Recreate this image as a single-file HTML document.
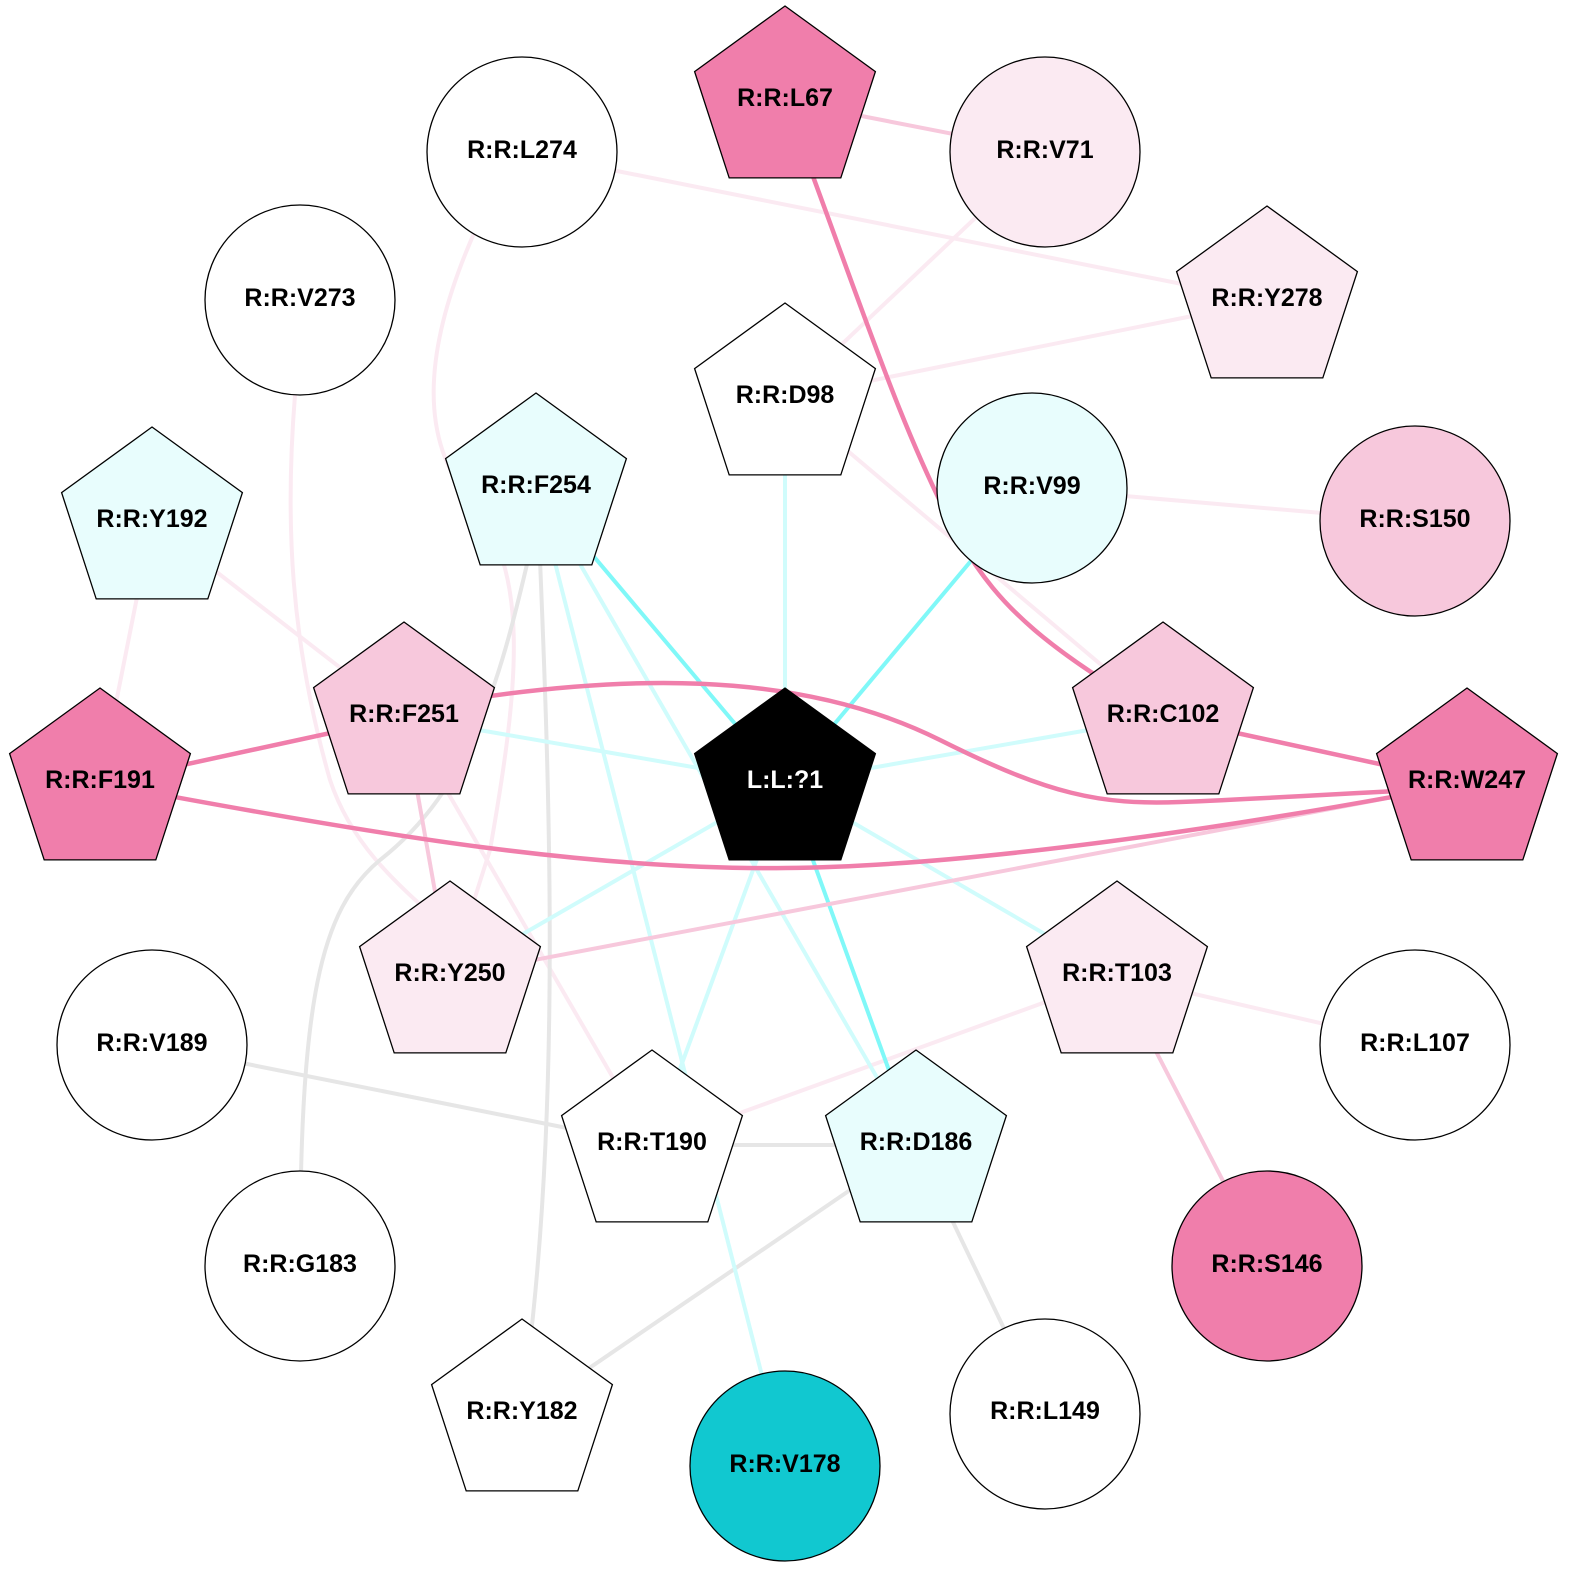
<!DOCTYPE html>
<html><head><meta charset="utf-8"><style>
html,body{margin:0;padding:0;background:#fff;overflow:hidden;width:1574px;height:1574px;}
svg{display:block;}
svg text{font-family:"Liberation Sans",Arial,sans-serif;font-weight:bold;font-size:25px;text-anchor:middle;dominant-baseline:central;}
</style></head><body>
<svg width="1574" height="1574" viewBox="0 0 1574 1574" xmlns="http://www.w3.org/2000/svg">
<defs>
<polygon id="p" points="0,-95 90.4,-29.4 55.8,76.9 -55.8,76.9 -90.4,-29.4"/>
</defs>
<g fill="none" stroke-width="4">
<g stroke="#fbeaf2">
<line x1="522" y1="152" x2="1267" y2="301"/>
<line x1="1045" y1="152" x2="785" y2="398"/>
<line x1="1267" y1="301" x2="785" y2="398"/>
<line x1="785" y1="398" x2="1163" y2="717"/>
<line x1="1032" y1="488" x2="1415" y2="521"/>
<line x1="152" y1="522" x2="100" y2="783"/>
<line x1="152" y1="522" x2="404" y2="717"/>
<line x1="404" y1="717" x2="652" y2="1145"/>
<line x1="1117" y1="976" x2="1415" y2="1045"/>
<line x1="1117" y1="976" x2="652" y2="1145"/>
<path d="M480,220 C420,350 420,440 470,500 C530,570 520,680 490,850 L450,976"/>
<path d="M295,395 C285,520 290,640 330,780 C350,840 390,880 450,930"/>
</g>
<g stroke="#e6e6e6">
<path d="M528,560 C500,680 470,790 380,860 C320,910 300,1000 300,1266"/>
<path d="M540,560 C550,800 560,1100 528,1360"/>
<line x1="152" y1="1045" x2="652" y2="1145"/>
<line x1="652" y1="1145" x2="916" y2="1145"/>
<line x1="916" y1="1145" x2="522" y2="1414"/>
<line x1="916" y1="1145" x2="1045" y2="1414"/>
</g>
<g stroke="#d0fcfc">
<line x1="785" y1="398" x2="785" y2="783"/>
<line x1="536" y1="488" x2="785" y2="1466"/>
<line x1="536" y1="488" x2="916" y2="1145"/>
<line x1="404" y1="717" x2="785" y2="783"/>
<line x1="1163" y1="717" x2="785" y2="783"/>
<line x1="785" y1="783" x2="450" y2="976"/>
<line x1="785" y1="783" x2="652" y2="1145"/>
<line x1="785" y1="783" x2="1117" y2="976"/>
</g>
<g stroke="#80f8f8">
<line x1="1032" y1="488" x2="785" y2="783"/>
<line x1="536" y1="488" x2="785" y2="783"/>
<line x1="785" y1="783" x2="916" y2="1145"/>
</g>
<g stroke="#f7c8dc">
<line x1="785" y1="101" x2="1045" y2="152"/>
<line x1="404" y1="717" x2="450" y2="976"/>
<line x1="1467" y1="783" x2="450" y2="976"/>
<line x1="1117" y1="976" x2="1267" y2="1266"/>
</g>
<g stroke="#f07eab" stroke-width="4.5">
<path d="M785,101 C860,300 900,430 960,540 C1000,610 1050,650 1163,717"/>
<line x1="100" y1="783" x2="404" y2="717"/>
<line x1="1163" y1="717" x2="1467" y2="783"/>
<path d="M100,783 C400,840 600,870 785,868 C1000,866 1300,815 1467,783"/>
<path d="M404,710 C620,670 800,670 940,740 C1050,795 1100,805 1180,802 C1300,797 1400,790 1467,788"/>
</g>
</g>
<g stroke="#000" stroke-width="1.3">
<use href="#p" x="785" y="101" fill="#f07eab"/>
<circle cx="1045" cy="152" r="95" fill="#fbeaf2"/>
<circle cx="522" cy="152" r="95" fill="#fff"/>
<use href="#p" x="1267" y="301" fill="#fbeaf2"/>
<circle cx="300" cy="300" r="95" fill="#fff"/>
<use href="#p" x="785" y="398" fill="#fff"/>
<use href="#p" x="536" y="488" fill="#e8fdfd"/>
<circle cx="1032" cy="488" r="95" fill="#e8fdfd"/>
<circle cx="1415" cy="521" r="95" fill="#f7c8dc"/>
<use href="#p" x="152" y="522" fill="#e8fdfd"/>
<use href="#p" x="404" y="717" fill="#f7c8dc"/>
<use href="#p" x="1163" y="717" fill="#f7c8dc"/>
<use href="#p" x="100" y="783" fill="#f07eab"/>
<use href="#p" x="785" y="783" fill="#000"/>
<use href="#p" x="1467" y="783" fill="#f07eab"/>
<use href="#p" x="450" y="976" fill="#fbeaf2"/>
<use href="#p" x="1117" y="976" fill="#fbeaf2"/>
<circle cx="152" cy="1045" r="95" fill="#fff"/>
<circle cx="1415" cy="1045" r="95" fill="#fff"/>
<use href="#p" x="652" y="1145" fill="#fff"/>
<use href="#p" x="916" y="1145" fill="#e8fdfd"/>
<circle cx="300" cy="1266" r="95" fill="#fff"/>
<circle cx="1267" cy="1266" r="95" fill="#f07eab"/>
<use href="#p" x="522" y="1414" fill="#fff"/>
<circle cx="785" cy="1466" r="95" fill="#11c8d0"/>
<circle cx="1045" cy="1414" r="95" fill="#fff"/>
</g>
<g fill="#000">
<text x="785" y="98">R:R:L67</text>
<text x="1045" y="150">R:R:V71</text>
<text x="522" y="150">R:R:L274</text>
<text x="1267" y="298">R:R:Y278</text>
<text x="300" y="298">R:R:V273</text>
<text x="785" y="395">R:R:D98</text>
<text x="536" y="485">R:R:F254</text>
<text x="1032" y="486">R:R:V99</text>
<text x="1415" y="519">R:R:S150</text>
<text x="152" y="519">R:R:Y192</text>
<text x="404" y="714">R:R:F251</text>
<text x="1163" y="714">R:R:C102</text>
<text x="100" y="780">R:R:F191</text>
<text x="785" y="780" fill="#fff">L:L:?1</text>
<text x="1467" y="780">R:R:W247</text>
<text x="450" y="973">R:R:Y250</text>
<text x="1117" y="973">R:R:T103</text>
<text x="152" y="1043">R:R:V189</text>
<text x="1415" y="1043">R:R:L107</text>
<text x="652" y="1142">R:R:T190</text>
<text x="916" y="1142">R:R:D186</text>
<text x="300" y="1264">R:R:G183</text>
<text x="1267" y="1264">R:R:S146</text>
<text x="522" y="1411">R:R:Y182</text>
<text x="785" y="1464">R:R:V178</text>
<text x="1045" y="1411">R:R:L149</text>
</g>
</svg>
</body></html>
